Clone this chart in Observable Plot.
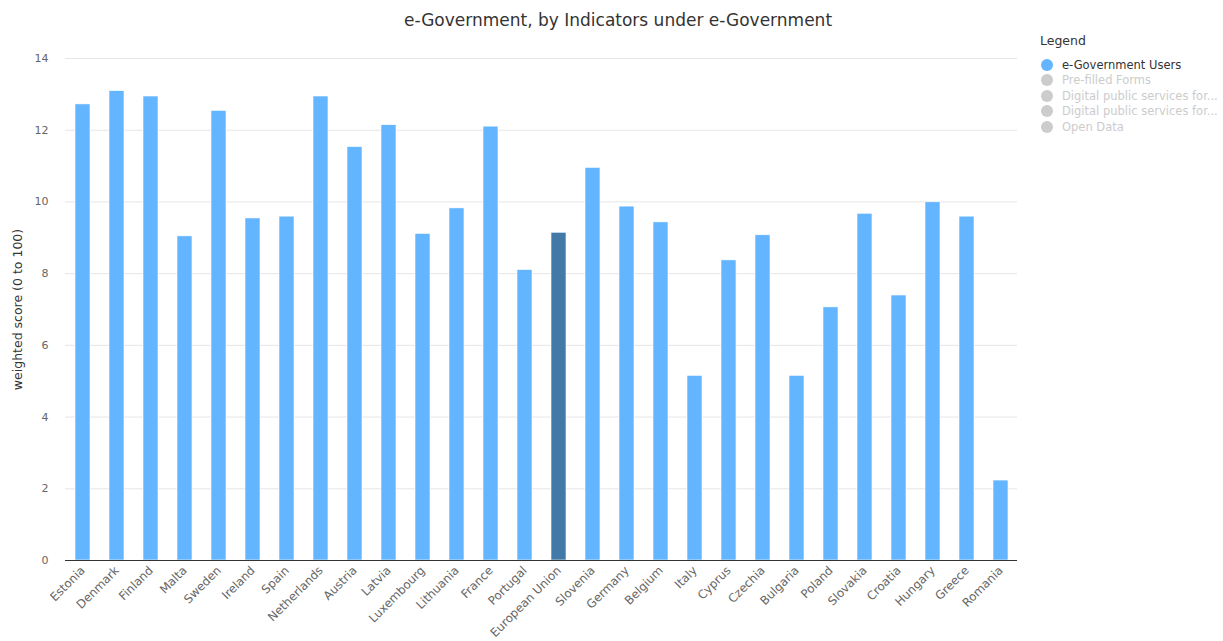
<!DOCTYPE html>
<html>
<head>
<meta charset="utf-8">
<script src="https://cdn.jsdelivr.net/npm/d3@7"></script>
<script src="https://cdn.jsdelivr.net/npm/@observablehq/plot@0.6"></script>
<style>
  body { margin: 0; background: #fff; font-family: "DejaVu Sans", sans-serif; }
  #wrap { position: relative; width: 1223px; height: 641px; overflow: hidden; }
  #title { height: 40px; line-height: 40px; text-align: center; font-size: 17px; color: #333; width: 1236px; }
  #legend { position: absolute; left: 1040px; top: 33px; font-size: 11.5px; }
  #legend .hd { font-size: 12.5px; color: #333; margin-bottom: 9px; }
  #legend .it { display: flex; align-items: center; height: 15.5px; white-space: nowrap; }
  #legend .dot { width: 12px; height: 12px; border-radius: 50%; margin-right: 9px; margin-left: 1px; }
  svg text { font-family: "DejaVu Sans", sans-serif; }
  g[aria-label="y-axis label"] text { fill: #333; font-size: 12.5px; }
  g[aria-label="x-axis tick label"] text { font-size: 11.8px; }
</style>
</head>
<body>
<div id="wrap">
  <div id="title">e-Government, by Indicators under e-Government</div>
  <div id="chart"></div>
  <div id="legend"></div>
</div>
<script>
const countries = ["Estonia","Denmark","Finland","Malta","Sweden","Ireland","Spain","Netherlands","Austria","Latvia","Luxembourg","Lithuania","France","Portugal","European Union","Slovenia","Germany","Belgium","Italy","Cyprus","Czechia","Bulgaria","Poland","Slovakia","Croatia","Hungary","Greece","Romania"];
const values = [12.72,13.09,12.94,9.04,12.54,9.54,9.59,12.94,11.53,12.14,9.11,9.82,12.10,8.10,9.14,10.95,9.87,9.43,5.15,8.37,9.07,5.15,7.06,9.67,7.39,9.99,9.59,2.23];
const highlight = "European Union";
const yTicks = [0,2,4,6,8,10,12,14];
const legendItems = ["e-Government Users","Pre-filled Forms","Digital public services for...","Digital public services for...","Open Data"];
const legendActive = [true,false,false,false,false];

const data = countries.map((c, i) => ({country: c, value: values[i]}));

const chart = Plot.plot({
  width: 1223,
  height: 601,
  marginLeft: 65,
  marginRight: 206,
  marginTop: 18,
  marginBottom: 81,
  style: {fontSize: "11px", color: "#666", background: "#fff"},
  x: {domain: countries, paddingInner: 0.56, paddingOuter: 0.28, label: null},
  y: {domain: [0, 14], label: null},
  marks: [
    Plot.gridY(yTicks, {stroke: "#e6e6e6", strokeOpacity: 1}),
    Plot.barY(data, {x: "country", y: "value", fill: d => d.country === highlight ? "#4379a7" : "#64b5ff", stroke: "#fff", strokeWidth: 0.6}),
    Plot.ruleY([0], {stroke: "#333", strokeWidth: 1}),
    Plot.axisY({ticks: yTicks, tickSize: 0, tickPadding: 17, label: "weighted score (0 to 100)", labelAnchor: "center", labelArrow: "none", labelOffset: 52, fill: "#666"}),
    Plot.axisX({tickRotate: -45, tickSize: 0, tickPadding: 8, fill: "#666", label: null})
  ]
});
document.getElementById("chart").appendChild(chart);

const lg = document.getElementById("legend");
const hd = document.createElement("div");
hd.className = "hd"; hd.textContent = "Legend";
lg.appendChild(hd);
legendItems.forEach((t, i) => {
  const it = document.createElement("div");
  it.className = "it";
  const dot = document.createElement("div");
  dot.className = "dot";
  dot.style.background = legendActive[i] ? "#64b5ff" : "#cccccc";
  const sp = document.createElement("span");
  sp.textContent = t;
  sp.style.color = legendActive[i] ? "#333" : "#cccccc";
  it.appendChild(dot); it.appendChild(sp);
  lg.appendChild(it);
});
</script>
</body>
</html>
